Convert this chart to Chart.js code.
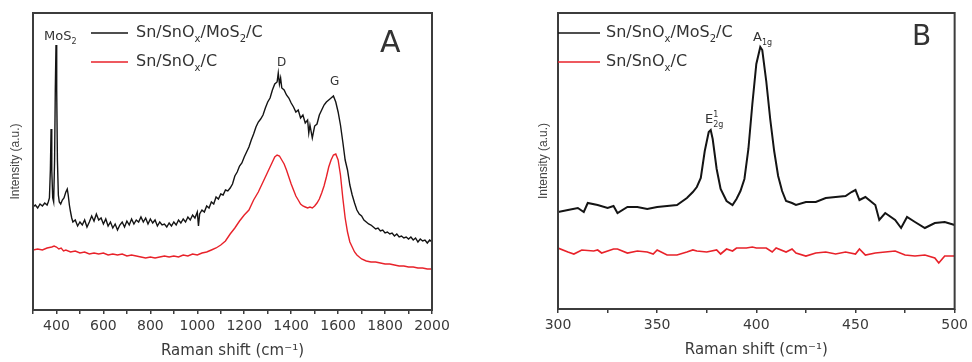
<!DOCTYPE html>
<html lang="en">
<head>
  <meta charset="UTF-8" />
  <title>Raman spectra</title>
  <script src="https://cdn.jsdelivr.net/npm/chart.js"></script>
  <style>
    body { margin: 0; background: #fff; }
    canvas { position: absolute; top: 0; }
  </style>
</head>
<body>
  <canvas id="ramanA" width="486" height="362" style="left:0"></canvas>
  <canvas id="ramanB" width="486" height="362" style="left:486px"></canvas>

  <script>
    // panel A: 300-2000 cm-1, Sn/SnOx/MoS2/C (black)
    const shiftA_mos = [300,310,320,330,340,350,360,365,370,374,
      377,380,384,388,392,395,398,401,404,408,
      412,418,425,432,440,446,450,455,460,465,
      470,480,490,500,510,520,530,540,550,560,
      570,580,590,600,610,620,630,640,650,660,
      670,680,690,700,710,720,730,740,750,760,
      770,780,790,800,810,820,830,840,850,860,
      870,880,890,900,910,920,930,940,950,960,
      970,980,990,1000,1005,1010,1020,1030,1040,1050,
      1060,1070,1080,1090,1100,1110,1120,1130,1140,1150,
      1160,1170,1180,1190,1200,1210,1220,1230,1240,1250,
      1260,1270,1280,1290,1300,1310,1320,1330,1340,1345,
      1350,1355,1360,1370,1380,1390,1400,1410,1420,1430,
      1440,1450,1460,1470,1475,1480,1490,1500,1510,1520,
      1530,1540,1550,1560,1570,1580,1590,1600,1610,1620,
      1630,1640,1650,1660,1670,1680,1690,1700,1710,1720,
      1730,1740,1750,1760,1770,1780,1790,1800,1810,1820,
      1830,1840,1850,1860,1870,1880,1890,1900,1910,1920,
      1930,1940,1950,1960,1970,1980,1990,2000];
    const intensA_mos = [103,105,102,106,104,107,105,108,112,140,
      181,140,112,108,150,220,265,220,150,115,
      108,106,110,112,118,121,115,105,98,92,
      88,90,84,88,85,90,83,88,94,89,
      96,90,92,86,91,84,88,82,86,80,
      85,88,83,89,85,91,86,90,88,93,
      88,92,86,91,87,90,84,88,85,86,
      83,87,84,88,85,90,87,91,88,93,
      90,95,92,98,84,96,100,98,104,102,
      108,106,113,111,116,115,120,119,122,126,
      134,138,144,147,153,158,163,170,176,183,
      188,191,195,202,208,212,220,226,228,237,
      226,232,222,220,215,212,207,203,198,200,
      192,195,187,190,177,185,172,184,186,195,
      200,205,208,210,212,214,208,198,185,168,
      150,140,125,115,107,100,96,94,90,88,
      86,85,83,81,82,79,80,77,78,76,
      77,74,76,73,74,72,73,71,73,70,
      72,68,71,69,70,67,70,68];

    // panel A: Sn/SnOx/C (red)
    const shiftA_ref = [300,320,340,360,380,390,400,410,420,430,
      440,460,480,500,520,540,560,580,600,620,
      640,660,680,700,720,740,760,780,800,820,
      840,860,880,900,920,940,960,980,1000,1020,
      1040,1060,1080,1100,1120,1140,1160,1180,1200,1220,
      1240,1260,1280,1300,1310,1320,1330,1340,1350,1360,
      1370,1380,1390,1400,1410,1420,1430,1440,1450,1460,
      1470,1480,1490,1500,1510,1520,1530,1540,1550,1560,
      1570,1580,1590,1600,1610,1620,1630,1640,1650,1660,
      1670,1680,1690,1700,1720,1740,1760,1780,1800,1820,
      1840,1860,1880,1900,1920,1940,1960,1980,2000];
    const intensA_ref = [60,61,60,62,63,64,63,61,62,59,
      60,58,59,57,58,56,57,56,57,55,
      56,55,56,54,55,54,53,52,53,52,
      53,54,53,54,53,55,54,56,55,57,
      58,60,62,65,69,76,82,89,95,100,
      110,118,128,138,143,148,153,155,154,150,
      146,140,133,126,120,114,110,106,104,103,
      102,103,102,104,107,111,117,124,133,143,
      150,155,156,150,135,112,92,78,68,63,
      58,55,53,51,49,48,48,47,46,46,
      45,44,44,43,43,42,42,41,41];

    // panel B: 300-500 cm-1
    const shiftB_mos = [300,305,310,313,315,320,325,328,330,335,
      340,345,350,355,360,365,368,370,372,374,
      376,377,378,380,382,385,388,390,392,394,
      396,398,400,402,403,405,407,409,411,413,
      415,418,420,425,430,435,440,445,448,450,
      452,455,460,462,465,470,473,476,480,485,
      490,495,500];
    const intensB_mos = [97,99,101,97,106,104,101,103,96,102,
      102,100,102,103,104,111,117,122,131,158,
      177,179,170,140,120,108,104,110,118,130,
      160,205,245,262,259,228,190,158,133,118,
      108,106,104,107,107,111,112,113,117,119,
      109,112,104,89,96,89,81,92,87,81,
      86,87,84];
    const shiftB_ref = [300,305,308,312,318,320,322,328,330,335,
      340,345,348,350,355,360,365,368,370,375,
      380,382,385,388,390,395,398,400,405,408,
      410,415,418,420,425,430,435,440,445,450,
      452,455,460,465,470,475,480,485,490,492,
      495,500];
    const intensB_ref = [61,57,55,59,58,59,56,60,60,56,
      58,57,55,59,54,54,57,59,58,57,
      59,55,60,58,61,61,62,61,61,57,
      61,57,60,56,53,56,57,55,57,55,
      60,54,56,57,58,54,53,54,51,46,
      53,53];

    const seriesNames = ['Sn/SnOx/MoS2/C', 'Sn/SnOx/C'];
    const BLACK = '#141414', RED = '#e8222a';
    const FONT = '"DejaVu Sans", sans-serif';

    const pts = (xs, ys) => xs.map((x, i) => ({ x, y: ys[i] }));

    // text with subscripts / superscripts
    function drawRich(ctx, x, y, parts, size) {
      ctx.fillStyle = '#333';
      ctx.textBaseline = 'middle';
      ctx.textAlign = 'left';
      for (const [txt, kind] of parts) {
        const s = kind ? Math.round(size * 0.62) : size;
        let dy = 0;
        if (kind === 'sub') dy = size * 0.4;
        if (kind === 'sup' || kind === 'sup0') dy = -size * 0.4;
        ctx.font = s + 'px ' + FONT;
        ctx.fillText(txt, x, y + dy);
        if (kind !== 'sup0') x += ctx.measureText(txt).width;
      }
    }

    function notesPlugin(legend, notes) {
      return {
        id: 'notes',
        afterDatasetsDraw(chart) {
          const { ctx, chartArea: a } = chart;
          ctx.save();
          ctx.strokeStyle = '#3c3c3c';
          ctx.lineWidth = 2;
          ctx.strokeRect(a.left, a.top, a.right - a.left, a.bottom - a.top);
          legend.forEach(l => {
            ctx.strokeStyle = l.color;
            ctx.lineWidth = 1.6;
            ctx.beginPath();
            ctx.moveTo(l.x1, l.y);
            ctx.lineTo(l.x2, l.y);
            ctx.stroke();
            drawRich(ctx, l.tx, l.y, l.parts, 16);
          });
          notes.forEach(n => drawRich(ctx, n.x, n.y, n.parts, n.size));
          ctx.restore();
        }
      };
    }

    const nameParts = [
      [['Sn/SnO'], ['x', 'sub'], ['/MoS'], ['2', 'sub'], ['/C']],
      [['Sn/SnO'], ['x', 'sub'], ['/C']]
    ];

    function makeChart(id, cfg) {
      new Chart(document.getElementById(id), {
        type: 'line',
        data: {
          datasets: [
            { label: seriesNames[0], data: cfg.black, borderColor: BLACK, borderWidth: cfg.lw, pointRadius: 0 },
            { label: seriesNames[1], data: cfg.red, borderColor: RED, borderWidth: cfg.lwRed, pointRadius: 0 }
          ]
        },
        options: {
          responsive: false,
          animation: false,
          layout: { padding: cfg.pad },
          plugins: { legend: { display: false }, tooltip: { enabled: false } },
          scales: {
            x: {
              type: 'linear', min: cfg.xmin, max: cfg.xmax,
              border: { display: false },
              grid: { drawOnChartArea: false, drawTicks: true, tickLength: 4, color: '#3c3c3c', lineWidth: 1.5 },
              ticks: {
                stepSize: cfg.step, autoSkip: false, maxRotation: 0, padding: 4,
                color: '#3a3a3a', font: { family: FONT, size: 14 },
                callback: v => (v % cfg.labelStep === 0 ? String(v) : '')
              },
              title: {
                display: true, text: 'Raman shift (cm⁻¹)', color: '#3a3a3a',
                font: { family: FONT, size: 15 }, padding: { top: 0, bottom: 2 }
              },
              afterFit: s => { s.height = 52; }
            },
            y: {
              min: 0, max: cfg.ymax,
              border: { display: false },
              grid: { display: false },
              ticks: { display: false },
              title: {
                display: true, text: 'Intensity (a.u.)', color: '#444',
                font: { family: '"Liberation Sans", Arial, sans-serif', size: 12 },
                padding: { top: cfg.titlePad, bottom: 0 }
              },
              afterFit: s => { s.width = 33; }
            }
          }
        },
        plugins: [notesPlugin(cfg.legend, cfg.notes)]
      });
    }

    makeChart('ramanA', {
      black: pts(shiftA_mos, intensA_mos),
      red: pts(shiftA_ref, intensA_ref),
      lw: 1.4, lwRed: 1.4, xmin: 300, xmax: 2000, step: 100, labelStep: 200, ymax: 297,
      pad: { left: 0, right: 54, top: 13, bottom: 0 }, titlePad: 8,
      legend: [
        { color: BLACK, x1: 91, x2: 128, y: 33, tx: 136, parts: nameParts[0] },
        { color: RED, x1: 91, x2: 128, y: 62, tx: 136, parts: nameParts[1] }
      ],
      notes: [
        { x: 44, y: 37, size: 13, parts: [['MoS'], ['2', 'sub']] },
        { x: 380, y: 44, size: 30, parts: [['A']] },
        { x: 277, y: 63, size: 12, parts: [['D']] },
        { x: 330, y: 82, size: 12, parts: [['G']] }
      ]
    });

    makeChart('ramanB', {
      black: pts(shiftB_mos, intensB_mos),
      red: pts(shiftB_ref, intensB_ref),
      lw: 2, lwRed: 1.7, xmin: 300, xmax: 500, step: 25, labelStep: 50, ymax: 296,
      pad: { left: 39, right: 16, top: 13, bottom: 1 }, titlePad: 11,
      legend: [
        { color: BLACK, x1: 72, x2: 114, y: 33, tx: 120, parts: nameParts[0] },
        { color: RED, x1: 72, x2: 114, y: 62, tx: 120, parts: nameParts[1] }
      ],
      notes: [
        { x: 426, y: 38, size: 28, parts: [['B']] },
        { x: 267, y: 38, size: 13, parts: [['A'], ['1g', 'sub']] },
        { x: 219, y: 120, size: 13, parts: [['E'], ['1', 'sup0'], ['2g', 'sub']] }
      ]
    });
  </script>
</body>
</html>
